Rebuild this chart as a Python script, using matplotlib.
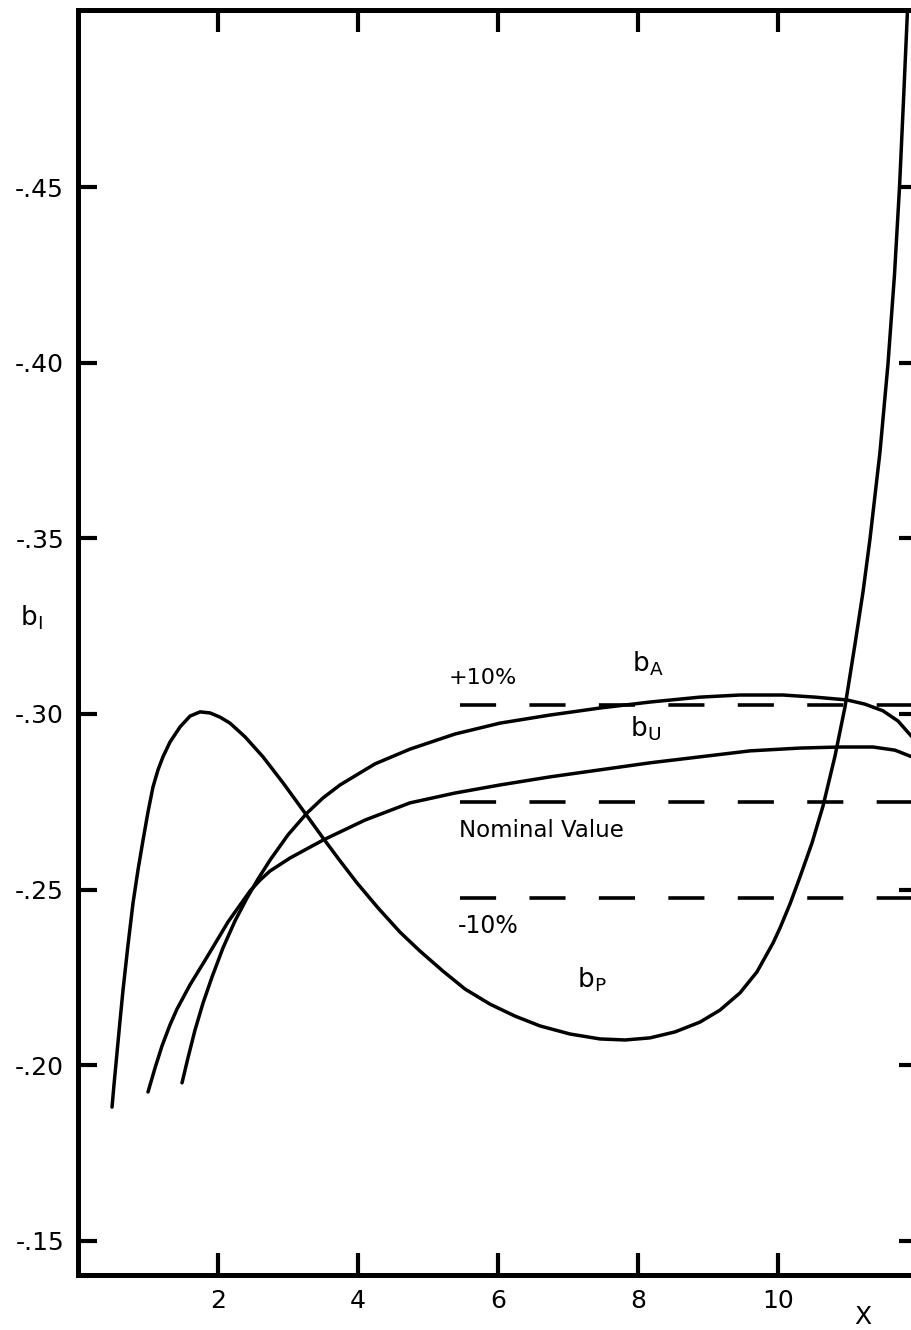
import numpy as np
import matplotlib
matplotlib.use("Agg")
import matplotlib.pyplot as plt

plt.rcParams['font.family'] = ['DejaVu Sans']
plt.rcParams['lines.scale_dashes'] = False

# curves (x, b1)
bp_x = [0.486, 0.514, 0.557, 0.600, 0.643, 0.714, 0.786, 0.857, 0.929, 1.000,
        1.071, 1.143, 1.214, 1.314, 1.457, 1.600, 1.743, 1.886, 2.029, 2.171,
        2.386, 2.643, 2.929, 3.243, 3.500, 3.743, 3.986, 4.286, 4.600, 4.886,
        5.214, 5.529, 5.886, 6.243, 6.600, 7.029, 7.457, 7.814, 8.171, 8.529,
        8.886, 9.171, 9.457, 9.700, 9.929, 10.029, 10.171, 10.314, 10.486, 10.643,
        10.814, 10.957, 11.100, 11.214, 11.314, 11.457, 11.571, 11.664, 11.736, 11.793,
        11.850]
bp_y = [-0.1881, -0.1944, -0.2035, -0.2126, -0.2214, -0.2342, -0.2462, -0.2556, -0.2641, -0.2721,
        -0.2792, -0.2841, -0.2878, -0.2920, -0.2963, -0.2994, -0.3006, -0.3003, -0.2991, -0.2974,
        -0.2935, -0.2878, -0.2804, -0.2718, -0.2647, -0.2582, -0.2519, -0.2448, -0.2379, -0.2325,
        -0.2268, -0.2217, -0.2174, -0.2140, -0.2112, -0.2089, -0.2075, -0.2072, -0.2078, -0.2095,
        -0.2123, -0.2157, -0.2206, -0.2266, -0.2348, -0.2391, -0.2459, -0.2536, -0.2633, -0.2738,
        -0.2880, -0.3020, -0.3199, -0.3347, -0.3498, -0.3746, -0.3996, -0.4250, -0.4500, -0.4748,
        -0.5004]

ba_x = [1.486, 1.571, 1.671, 1.786, 1.914, 2.071, 2.243, 2.414, 2.571, 2.743,
        3.000, 3.271, 3.500, 3.743, 4.243, 4.743, 5.386, 6.029, 6.743, 7.457,
        8.171, 8.886, 9.457, 10.071, 10.529, 10.986, 11.243, 11.500, 11.714, 11.914,
        12.000]
ba_y = [-0.1950, -0.2021, -0.2100, -0.2177, -0.2251, -0.2334, -0.2411, -0.2476, -0.2530, -0.2584,
        -0.2656, -0.2718, -0.2761, -0.2798, -0.2858, -0.2900, -0.2943, -0.2974, -0.2997, -0.3017,
        -0.3034, -0.3048, -0.3054, -0.3054, -0.3048, -0.3040, -0.3028, -0.3009, -0.2980, -0.2935,
        -0.2912]

bu_x = [1.000, 1.100, 1.200, 1.314, 1.414, 1.600, 1.843, 2.143, 2.314, 2.457,
        2.600, 2.743, 3.029, 3.500, 4.100, 4.743, 5.386, 6.029, 6.743, 7.457,
        8.171, 8.886, 9.600, 10.314, 10.886, 11.357, 11.671, 11.914, 12.000]
bu_y = [-0.1924, -0.1992, -0.2055, -0.2115, -0.2160, -0.2229, -0.2308, -0.2408, -0.2456, -0.2496,
        -0.2527, -0.2553, -0.2590, -0.2641, -0.2698, -0.2747, -0.2775, -0.2798, -0.2821, -0.2841,
        -0.2861, -0.2878, -0.2895, -0.2903, -0.2906, -0.2906, -0.2897, -0.2878, -0.2863]

nominal = -0.275
plus10 = -0.3025
minus10 = -0.2475
ref_start = 5.457

xticks = [2, 4, 6, 8, 10]
xtick_labels = ['2', '4', '6', '8', '10']
yticks = [-0.45, -0.40, -0.35, -0.30, -0.25, -0.20, -0.15]
ytick_labels = ['-.45', '-.40', '-.35', '-.30', '-.25', '-.20', '-.15']

fig = plt.figure(figsize=(9.12, 13.3), dpi=100)
ax = fig.add_axes([78/912, 55/1330, 840/912, 1265/1330])

for xs, ys in [(bp_x, bp_y), (ba_x, ba_y), (bu_x, bu_y)]:
    ax.plot(xs, ys, color='black', lw=2.5, solid_joinstyle='round',
            solid_capstyle='round')

for yv in [plus10, nominal, minus10]:
    ax.plot([ref_start, 12.0], [yv, yv], color='black', lw=2.6,
            dashes=(26, 24), dash_capstyle='butt')

ax.set_xlim(0, 12)
ax.set_ylim(-0.1403, -0.5004)

ax.set_xticks(xticks)
ax.set_xticklabels(xtick_labels)
ax.set_yticks(yticks)
ax.set_yticklabels(ytick_labels)
ax.tick_params(direction='in', top=True, right=True, width=3, labelsize=18,
               pad=10)
ax.tick_params(axis='y', length=14)
ax.tick_params(axis='x', length=16)

for sp in ax.spines.values():
    sp.set_linewidth(3.6)

ax.set_ylabel(r'$\mathregular{b_I}$', rotation=0, fontsize=19)
ax.yaxis.set_label_coords(-0.055, 0.508)
ax.set_xlabel('X', fontsize=18)
ax.xaxis.set_label_coords(0.9345, -0.024)

ax.text(5.786, -0.3102, '+10%', fontsize=16, ha='center', va='center')
ax.text(7.914, -0.312, r'$\mathregular{b_A}$', fontsize=19, ha='left', va='baseline')
ax.text(7.886, -0.2935, r'$\mathregular{b_U}$', fontsize=19, ha='left', va='baseline')
ax.text(5.443, -0.265, 'Nominal Value', fontsize=16.5, ha='left', va='baseline')
ax.text(5.43, -0.2377, '-10%', fontsize=17, ha='left', va='baseline')
ax.text(7.13, -0.222, r'$\mathregular{b_P}$', fontsize=19, ha='left', va='baseline')

fig.savefig('out.png', dpi=100)
